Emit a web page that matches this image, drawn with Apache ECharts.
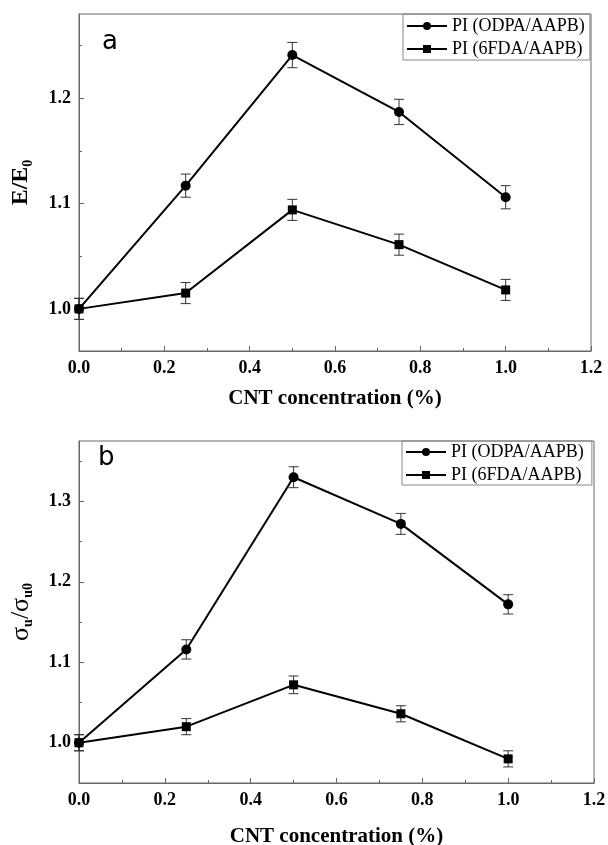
<!DOCTYPE html>
<html>
<head>
<meta charset="utf-8">
<script src="https://cdn.jsdelivr.net/npm/echarts@6/dist/echarts.min.js"></script>
<style>
  html, body { margin: 0; padding: 0; background: #fff; }
  #chart { width: 608px; height: 845px; }
</style>
</head>
<body>
<div id="chart"></div>
<script>
  // CNT concentration (%)
  let conc = [0, 0.25, 0.5, 0.75, 1.0];
  let seriesNames = ['PI (ODPA/AAPB)', 'PI (6FDA/AAPB)'];

  // panel a: E/E0
  let aOdpa = [1.0, 1.117, 1.241, 1.187, 1.106];
  let aOdpaErr = [0.010, 0.011, 0.012, 0.012, 0.011];
  let a6fda = [1.0, 1.015, 1.094, 1.061, 1.018];
  let a6fdaErr = [0.010, 0.010, 0.010, 0.010, 0.010];

  // panel b: σu/σu0
  let bOdpa = [1.0, 1.116, 1.330, 1.272, 1.172];
  let bOdpaErr = [0.010, 0.012, 0.013, 0.013, 0.012];
  let b6fda = [1.0, 1.020, 1.072, 1.036, 0.980];
  let b6fdaErr = [0.010, 0.010, 0.011, 0.010, 0.010];

  let xTicks = [0, 1.2, 0.2];
  let aYLabels = [1.0, 1.1, 1.2];
  let aYMinor = [1.05, 1.15, 1.25];
  let bYLabels = [1.0, 1.1, 1.2, 1.3];
  let bYMinor = [0.95, 1.05, 1.15, 1.25, 1.35];

  let serif = 'Liberation Serif';
  let axisColor = '#666';

  function pts(ys) {
    return conc.map(function (x, i) { return [x, ys[i]]; });
  }
  function errPts(ys, errs) {
    return conc.map(function (x, i) { return [x, ys[i] - errs[i], ys[i] + errs[i]]; });
  }

  function errorBars(idx, ys, errs) {
    return {
      type: 'custom',
      name: 'err' + idx + ys[1],
      xAxisIndex: idx,
      yAxisIndex: idx * 2,
      clip: false,
      silent: true,
      z: 1,
      data: errPts(ys, errs),
      renderItem: function (params, api) {
        let lo = api.coord([api.value(0), api.value(1)]);
        let hi = api.coord([api.value(0), api.value(2)]);
        let w = 5;
        let st = { stroke: '#333', lineWidth: 1 };
        return {
          type: 'group',
          children: [
            { type: 'line', shape: { x1: lo[0], y1: lo[1], x2: hi[0], y2: hi[1] }, style: st },
            { type: 'line', shape: { x1: lo[0] - w, y1: lo[1], x2: lo[0] + w, y2: lo[1] }, style: st },
            { type: 'line', shape: { x1: hi[0] - w, y1: hi[1], x2: hi[0] + w, y2: hi[1] }, style: st }
          ]
        };
      }
    };
  }

  function lineSeries(idx, name, ys, symbol, size) {
    return {
      type: 'line',
      name: name,
      xAxisIndex: idx,
      yAxisIndex: idx * 2,
      data: pts(ys),
      symbol: symbol,
      symbolSize: size,
      z: 3,
      lineStyle: { color: '#000', width: 2 },
      itemStyle: { color: '#000' }
    };
  }

  function xAxis(idx, gap) {
    return {
      type: 'value',
      gridIndex: idx,
      min: xTicks[0],
      max: xTicks[1],
      interval: xTicks[2],
      name: 'CNT concentration (%)',
      nameLocation: 'middle',
      nameGap: gap,
      nameTextStyle: { fontFamily: serif, fontWeight: 'bold', fontSize: 21, color: '#000' },
      axisLine: { show: true, lineStyle: { color: axisColor } },
      axisTick: { show: true, inside: true, length: 5, lineStyle: { color: axisColor } },
      minorTick: { show: true, splitNumber: 2, length: 3, lineStyle: { color: axisColor } },
      axisLabel: {
        fontFamily: serif, fontWeight: 'bold', fontSize: 18, color: '#000', margin: 8,
        formatter: function (v) { return v.toFixed(1); }
      },
      splitLine: { show: false }
    };
  }

  function yAxes(idx, min, max, labels, minor, name, rich, gap) {
    return [{
      type: 'value',
      gridIndex: idx,
      min: min,
      max: max,
      name: name,
      nameLocation: 'middle',
      nameGap: gap,
      nameRotate: 90,
      nameTextStyle: { rich: rich },
      axisLine: { show: true, lineStyle: { color: axisColor } },
      axisTick: { show: true, inside: true, length: 5, customValues: labels, lineStyle: { color: axisColor } },
      axisLabel: {
        customValues: labels,
        fontFamily: serif, fontWeight: 'bold', fontSize: 18, color: '#000', margin: 8,
        formatter: function (v) { return v.toFixed(1); }
      },
      splitLine: { show: false }
    }, {
      // minor ticks only
      type: 'value',
      gridIndex: idx,
      position: 'left',
      min: min,
      max: max,
      axisLine: { show: false },
      axisTick: { show: true, inside: true, length: 3, customValues: minor, lineStyle: { color: axisColor } },
      axisLabel: { show: false },
      splitLine: { show: false }
    }];
  }

  function legend(left, top, pad) {
    return {
      data: seriesNames,
      orient: 'vertical',
      left: left,
      top: top,
      itemWidth: 40,
      itemHeight: 10,
      itemGap: 5,
      padding: pad,
      borderColor: '#888',
      borderWidth: 1,
      selectedMode: false,
      textStyle: { fontFamily: serif, fontSize: 18, color: '#000' }
    };
  }

  let aRich = {
    m: { fontFamily: serif, fontWeight: 'bold', fontSize: 24, color: '#000', lineHeight: 28 },
    s: { fontFamily: serif, fontWeight: 'bold', fontSize: 14, color: '#000', lineHeight: 14, verticalAlign: 'bottom' }
  };
  let bRich = {
    m: { fontFamily: serif, fontSize: 26, color: '#000', lineHeight: 28 },
    s: { fontFamily: serif, fontWeight: 'bold', fontSize: 14, color: '#000', lineHeight: 14, verticalAlign: 'bottom' }
  };

  let myChart = echarts.init(document.getElementById('chart'), null, { renderer: 'canvas' });

  let option = {
    backgroundColor: '#fff',
    animation: false,
    grid: [
      { left: 79, top: 14, width: 512, height: 337, show: true, borderColor: axisColor, borderWidth: 1, outerBoundsMode: 'none' },
      { left: 79, top: 441, width: 515, height: 342, show: true, borderColor: axisColor, borderWidth: 1, outerBoundsMode: 'none' }
    ],
    legend: [legend(403, 14, [3, 5, 2, 3]), legend(402, 441, [2, 8, 1, 3])],
    xAxis: [xAxis(0, 37), xAxis(1, 43)],
    yAxis: yAxes(0, 0.96, 1.28, aYLabels, aYMinor, '{m|E/E}{s|0}', aRich, 44)
      .concat(yAxes(1, 0.95, 1.375, bYLabels, bYMinor, '{m|σ}{s|u}{m|/σ}{s|u0}', bRich, 44)),
    graphic: [
      { type: 'text', left: 102, top: 29, style: { text: 'a', font: '26px "DejaVu Sans"', fill: '#000' } },
      { type: 'text', left: 98, top: 445, style: { text: 'b', font: '26px "DejaVu Sans"', fill: '#000' } }
    ],
    series: [
      errorBars(0, aOdpa, aOdpaErr),
      errorBars(0, a6fda, a6fdaErr),
      lineSeries(0, seriesNames[0], aOdpa, 'circle', 10),
      lineSeries(0, seriesNames[1], a6fda, 'rect', 9),
      errorBars(1, bOdpa, bOdpaErr),
      errorBars(1, b6fda, b6fdaErr),
      lineSeries(1, seriesNames[0], bOdpa, 'circle', 10),
      lineSeries(1, seriesNames[1], b6fda, 'rect', 9)
    ]
  };

  myChart.setOption(option);
</script>
</body>
</html>
